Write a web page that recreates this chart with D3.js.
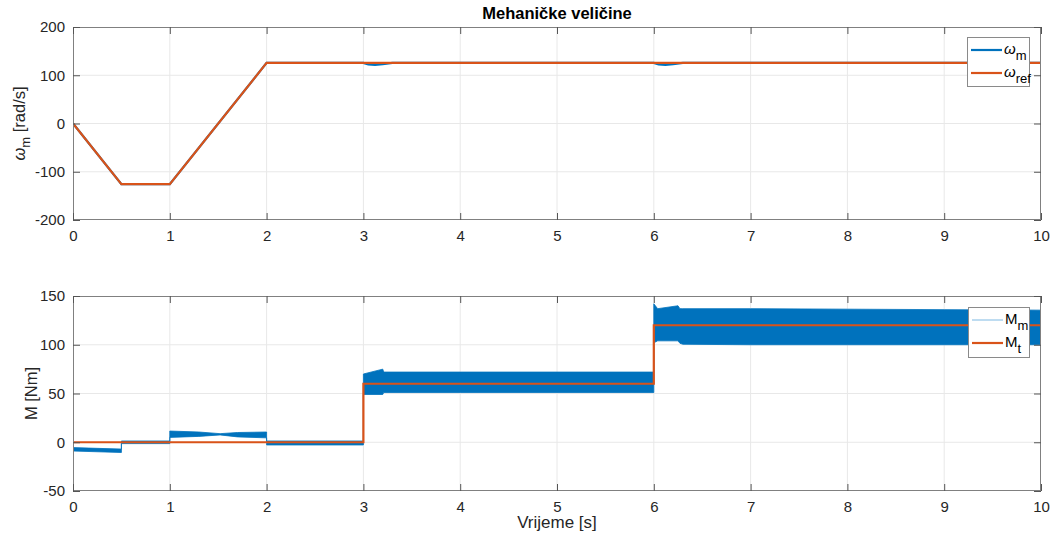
<!DOCTYPE html>
<html><head><meta charset="utf-8">
<script src="https://cdn.jsdelivr.net/npm/d3@7"></script>
<style>
html,body{margin:0;padding:0;background:#fff;}
svg{font-family:"Liberation Sans",Arial,Helvetica,sans-serif;}
</style></head>
<body>
<svg id="c" width="1055" height="541"></svg>
<script>
// ---- data ----
const xTicks = [0,1,2,3,4,5,6,7,8,9,10];
const topYTicks = [-200,-100,0,100,200];
const botYTicks = [-50,0,50,100,150];

const refT   = [0, 0.5, 1, 2, 10];
const refW   = [0, -125.66, -125.66, 125.66, 125.66];

const wmT    = [0, 0.5, 1, 2, 3, 3.05, 3.12, 3.2, 3.3, 6, 6.05, 6.12, 6.2, 6.3, 10];
const wmW    = [0, -125.66, -125.66, 125.66, 125.66, 122.5, 121.5, 123, 125.66, 125.66, 122.5, 121.5, 123, 125.66, 125.66];

const mtT    = [0, 3, 3, 6, 6, 10];
const mtM    = [0, 0, 60, 60, 120, 120];

const bandT     = [0, 0.5, 0.5, 1, 1, 1.3, 1.52, 1.7, 2, 2, 3, 3, 3.2, 3.21, 4, 5, 6, 6, 6.04, 6.25, 6.27, 6.3, 7, 8, 9, 10];
const bandUpper = [-5.5, -7, 1.3, 1.3, 11.5, 10.5, 8.8, 10, 10.5, 1.3, 1.3, 70, 75, 72, 72, 72, 72, 142, 137, 140, 137, 137, 137, 136.5, 136, 135.5];
const bandLower = [-9, -10.5, -1.4, -1.4, 5, 6, 7.5, 5.5, 4.5, -2.8, -2.8, 49, 49, 51, 51, 51, 51, 102, 104, 104, 101.5, 100.5, 100, 100, 100, 100];

// ---- layout ----
const svg = d3.select("#c");
const X0 = 73, X1 = 1041;
const topBox = {y0: 27, y1: 220};
const botBox = {y0: 296, y1: 491};
const blue = "#0072BD", orange = "#D95319";
const axisCol = "#808080", textCol = "#262626", gridCol = "#e8e8e8";

const x = d3.scaleLinear().domain([0,10]).range([X0, X1]);
const yTop = d3.scaleLinear().domain([-200,200]).range([topBox.y1, topBox.y0]);
const yBot = d3.scaleLinear().domain([-50,150]).range([botBox.y1, botBox.y0]);
const fmt = d => String(d);

function panel(y, yTicks, box, id) {
  const g = svg.append("g");
  g.selectAll(".gx").data(xTicks.slice(1,-1)).enter().append("line")
    .attr("x1", d=>x(d)).attr("x2", d=>x(d)).attr("y1", box.y0).attr("y2", box.y1)
    .attr("stroke", gridCol).attr("stroke-width", 1);
  g.selectAll(".gy").data(yTicks.slice(1,-1)).enter().append("line")
    .attr("x1", X0).attr("x2", X1).attr("y1", d=>y(d)).attr("y2", d=>y(d))
    .attr("stroke", gridCol).attr("stroke-width", 1);
  svg.append("clipPath").attr("id", id).append("rect")
    .attr("x", X0).attr("y", box.y0).attr("width", X1-X0).attr("height", box.y1-box.y0);
  return g;
}

function axes(y, yTicks, box) {
  const g = svg.append("g");
  g.append("rect").attr("x", X0+0.5).attr("y", box.y0+0.5).attr("width", X1-X0-1).attr("height", box.y1-box.y0-1)
    .attr("fill", "none").attr("stroke", axisCol).attr("stroke-width", 1);
  const xa = d3.axisBottom(x).tickValues(xTicks).tickSize(-7).tickPadding(10).tickFormat(fmt);
  const xg = g.append("g").attr("transform", `translate(0,${box.y1})`).call(xa);
  const xt = g.append("g").attr("transform", `translate(0,${box.y0})`).call(d3.axisTop(x).tickValues(xTicks).tickSize(-7).tickFormat(""));
  const ya = d3.axisLeft(y).tickValues(yTicks).tickSize(-7).tickPadding(8).tickFormat(fmt);
  const yg = g.append("g").attr("transform", `translate(${X0},0)`).call(ya);
  const yr = g.append("g").attr("transform", `translate(${X1},0)`).call(d3.axisRight(y).tickValues(yTicks).tickSize(-7).tickFormat(""));
  [xg, xt, yg, yr].forEach(a => {
    a.select(".domain").remove();
    a.selectAll(".tick line").attr("stroke", "#555");
    a.selectAll(".tick text").attr("fill", textCol).style("font-size", "15px")
      .style("font-family", '"Liberation Sans",Arial,sans-serif');
  });
  return g;
}

// ---- top panel ----
panel(yTop, topYTicks, topBox, "clipTop");
const gTop = svg.append("g").attr("clip-path", "url(#clipTop)");
const lineTop = d3.line().x(d=>x(d[0])).y(d=>yTop(d[1]));
gTop.append("path").datum(wmT.map((t,i)=>[t, wmW[i]])).attr("d", lineTop)
  .attr("fill","none").attr("stroke", blue).attr("stroke-width", 2.2);
gTop.append("path").datum(refT.map((t,i)=>[t, refW[i]])).attr("d", lineTop)
  .attr("fill","none").attr("stroke", orange).attr("stroke-width", 2.2);
axes(yTop, topYTicks, topBox);

// ---- bottom panel ----
panel(yBot, botYTicks, botBox, "clipBot");
const gBot = svg.append("g").attr("clip-path", "url(#clipBot)");
const area = d3.area().x(d=>x(d.t)).y0(d=>yBot(d.lo)).y1(d=>yBot(d.hi));
gBot.append("path").datum(bandT.map((t,i)=>({t, hi: bandUpper[i], lo: bandLower[i]})))
  .attr("d", area).attr("fill", blue).attr("stroke", blue).attr("stroke-width", 0.8);
const lineBot = d3.line().x(d=>x(d[0])).y(d=>yBot(d[1]));
gBot.append("path").datum(mtT.map((t,i)=>[t, mtM[i]])).attr("d", lineBot)
  .attr("fill","none").attr("stroke", orange).attr("stroke-width", 2.2);
axes(yBot, botYTicks, botBox);

// ---- titles / labels ----
svg.append("text").attr("x", (X0+X1)/2).attr("y", 19).attr("text-anchor","middle")
  .attr("fill","#000").style("font-size","16.5px").style("font-weight","bold").text("Mehaničke veličine");
svg.append("text").attr("x", (X0+X1)/2).attr("y", 528).attr("text-anchor","middle")
  .attr("fill", textCol).style("font-size","17px").text("Vrijeme [s]");

const yl1 = svg.append("text").attr("transform", `translate(25,${(topBox.y0+topBox.y1)/2}) rotate(-90)`)
  .attr("text-anchor","middle").attr("fill", textCol).style("font-size","16.5px");
yl1.append("tspan").style("font-style","italic").text("ω");
yl1.append("tspan").attr("dy", 5).style("font-size","13px").text("m");
yl1.append("tspan").attr("dy", -5).text(" [rad/s]");

svg.append("text").attr("transform", `translate(37,${(botBox.y0+botBox.y1)/2}) rotate(-90)`)
  .attr("text-anchor","middle").attr("fill", textCol).style("font-size","16.5px").text("M [Nm]");

// ---- legends ----
function legend(bx, by, bw, bh, items) {
  const g = svg.append("g");
  g.append("rect").attr("x", bx+0.5).attr("y", by+0.5).attr("width", bw).attr("height", bh)
    .attr("fill","#fff").attr("stroke", "#8a8a8a").attr("stroke-width", 1);
  items.forEach((it, i) => {
    const ly = by + 13 + i*23;
    g.append("line").attr("x1", bx+4).attr("x2", bx+35).attr("y1", ly).attr("y2", ly)
      .attr("stroke", it.color).attr("stroke-width", it.w);
    const t = g.append("text").attr("x", bx+37).attr("y", ly+4).attr("fill", "#000").style("font-size","15px");
    t.append("tspan").style("font-style", it.it ? "italic" : "normal").text(it.main);
    t.append("tspan").attr("dy", 6).style("font-size","13px").text(it.sub);
  });
}
legend(967, 37, 62, 49, [
  {main:"ω", sub:"m", color: blue, w: 2.2, it: true},
  {main:"ω", sub:"ref", color: orange, w: 2.2, it: true}
]);
legend(968, 307, 61, 50, [
  {main:"M", sub:"m", color: "#a9d0ec", w: 1.5},
  {main:"M", sub:"t", color: orange, w: 2.2}
]);
</script>
</body></html>
